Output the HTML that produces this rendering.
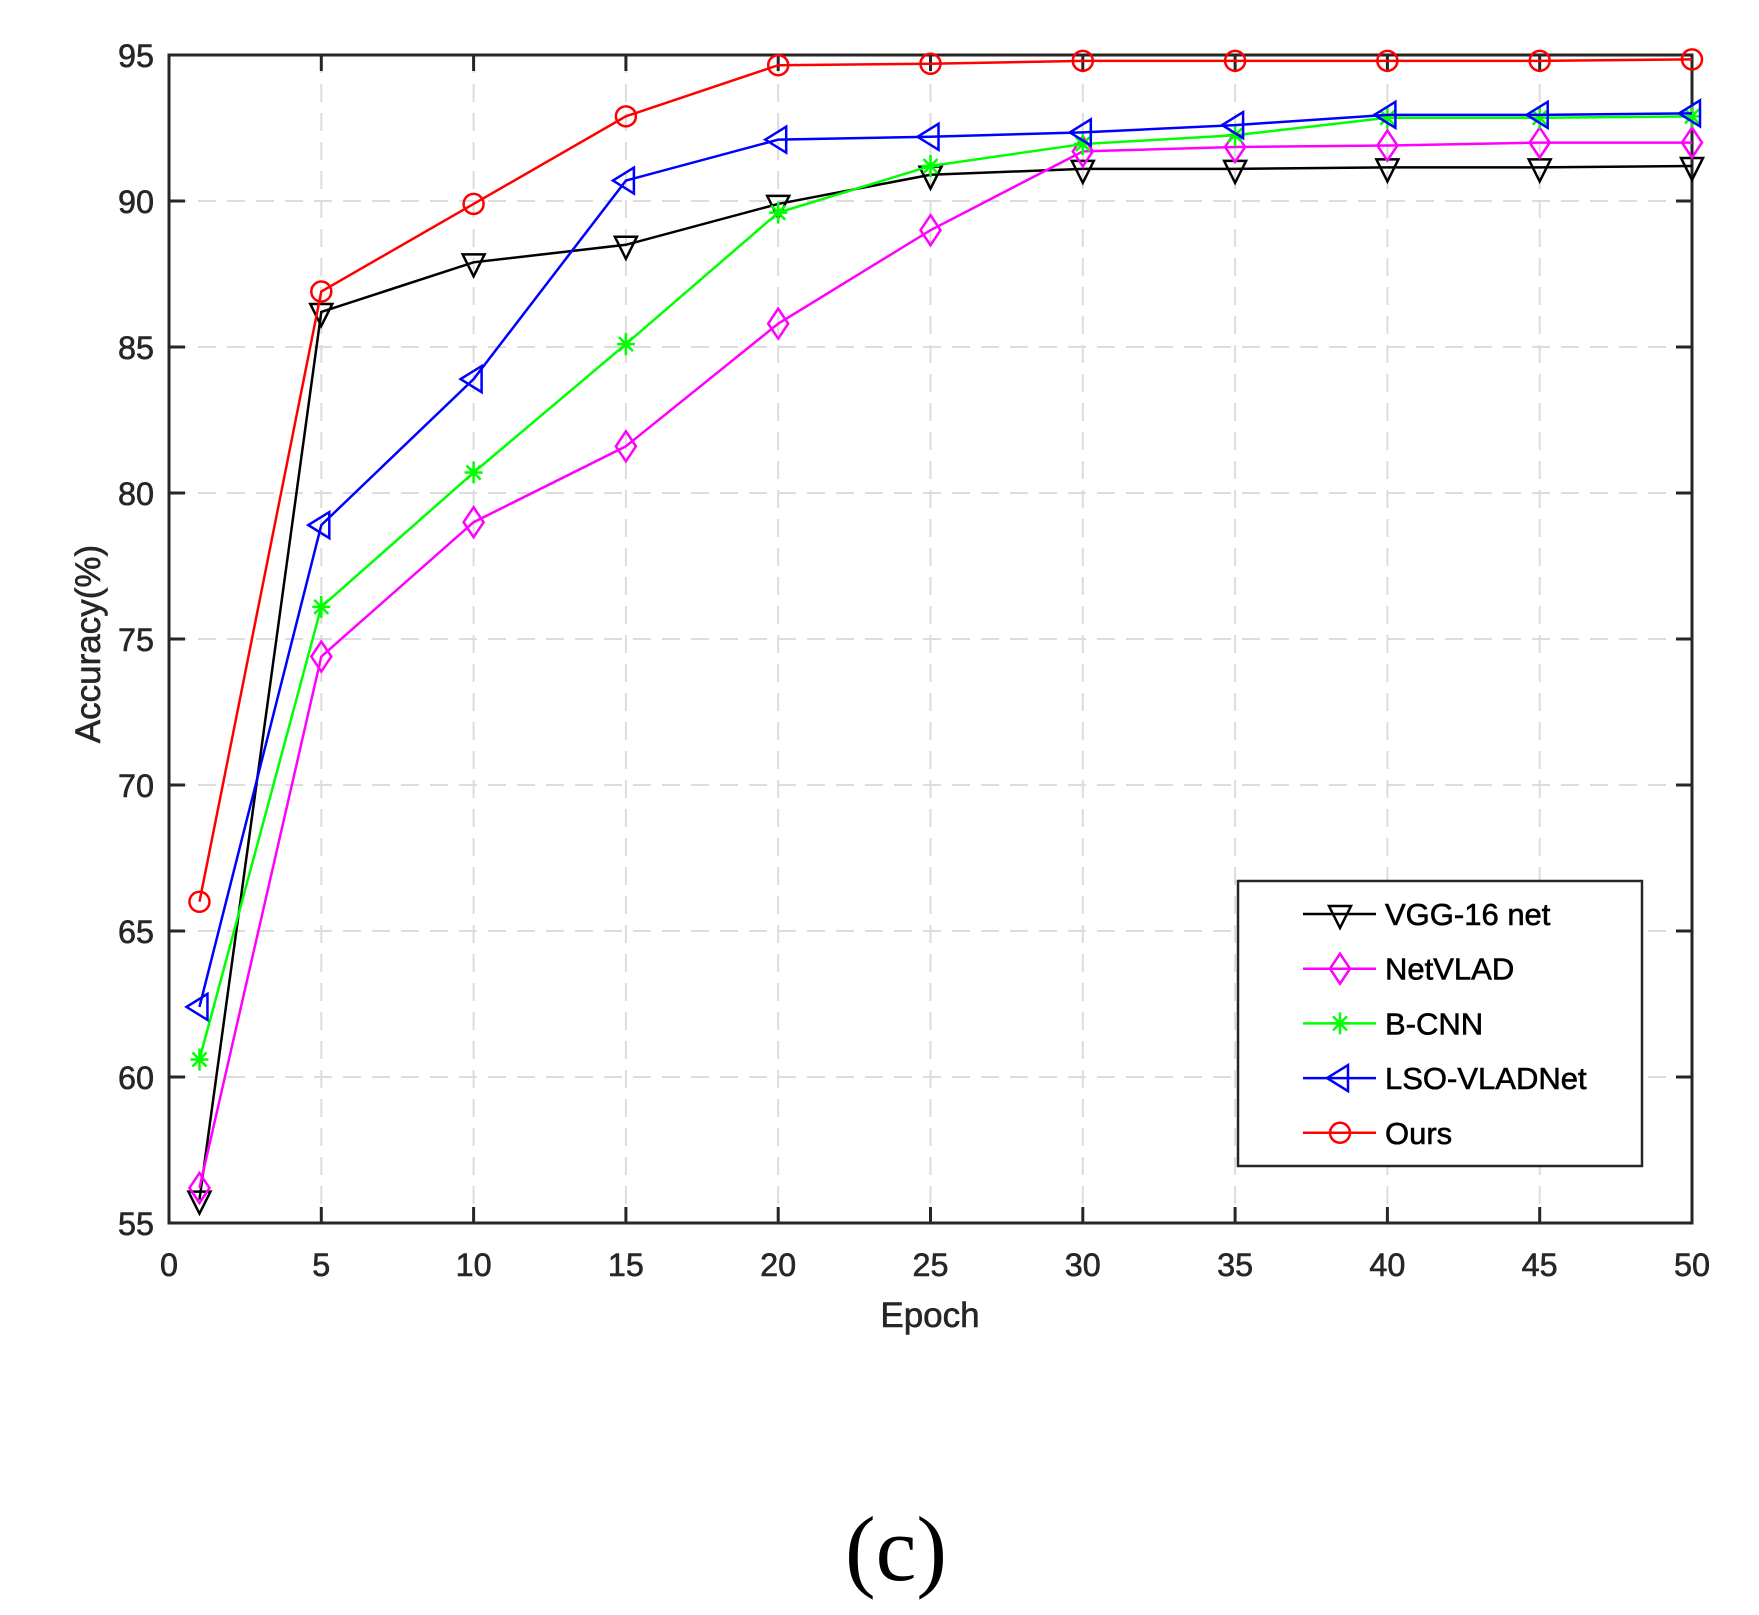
<!DOCTYPE html>
<html><head><meta charset="utf-8"><style>
html,body{margin:0;padding:0;background:#fff;}
svg{display:block;}
text{font-family:"Liberation Sans",Arial,sans-serif;fill:#262626;stroke:#262626;stroke-width:0.6;}
</style></head><body>
<svg id="s" width="1759" height="1615" xmlns="http://www.w3.org/2000/svg"></svg>
<script>
const s=document.getElementById('s');
const L=169,R=1692,T=55,B=1223;
const X=e=>L+(R-L)*e/50, Y=v=>B-(B-T)*(v-55)/40;
let h='';
for(let e=5;e<50;e+=5)h+=`<line x1="${X(e)}" y1="${T}" x2="${X(e)}" y2="${B}" stroke="#dcdcdc" stroke-width="2" stroke-dasharray="18,11"/>`;
for(let v=60;v<95;v+=5)h+=`<line x1="${L}" y1="${Y(v)}" x2="${R}" y2="${Y(v)}" stroke="#dcdcdc" stroke-width="2" stroke-dasharray="18,11"/>`;
for(let e=0;e<=50;e+=5){h+=`<line x1="${X(e)}" y1="${B}" x2="${X(e)}" y2="${B-16}" stroke="#262626" stroke-width="3"/><line x1="${X(e)}" y1="${T}" x2="${X(e)}" y2="${T+16}" stroke="#262626" stroke-width="3"/>`;
 h+=`<text x="${X(e)}" y="1276" font-size="32" text-anchor="middle" textLength="${e<10?18:36}" lengthAdjust="spacingAndGlyphs">${e}</text>`;}
for(let v=55;v<=95;v+=5){h+=`<line x1="${L}" y1="${Y(v)}" x2="${L+16}" y2="${Y(v)}" stroke="#262626" stroke-width="3"/><line x1="${R}" y1="${Y(v)}" x2="${R-16}" y2="${Y(v)}" stroke="#262626" stroke-width="3"/>`;
 h+=`<text x="154" y="${Y(v)+12}" font-size="32" text-anchor="end" textLength="36" lengthAdjust="spacingAndGlyphs">${v}</text>`;}
h+=`<rect x="${L}" y="${T}" width="${R-L}" height="${B-T}" fill="none" stroke="#262626" stroke-width="3"/>`;
h+=`<text x="930" y="1327" font-size="35" text-anchor="middle">Epoch</text>`;
h+=`<text transform="translate(100,644) rotate(-90)" font-size="35" text-anchor="middle">Accuracy(%)</text>`;
h+=`<text x="896" y="1580" font-size="92" text-anchor="middle" style="font-family:'Liberation Serif',serif;stroke:none;fill:#000">(c)</text>`;
const ep=[1,5,10,15,20,25,30,35,40,45,50];
const S=[
 ['VGG-16 net','#000','tri',[55.8,86.2,87.9,88.5,89.9,90.9,91.1,91.1,91.15,91.15,91.2]],
 ['NetVLAD','#ff00ff','dia',[56.2,74.4,79.0,81.6,85.8,89.0,91.7,91.85,91.9,92.0,92.0]],
 ['B-CNN','#00ff00','star',[60.6,76.1,80.7,85.1,89.6,91.2,91.95,92.25,92.85,92.85,92.9]],
 ['LSO-VLADNet','#0000ff','left',[62.4,78.9,83.9,90.7,92.1,92.2,92.35,92.6,92.95,92.95,93.0]],
 ['Ours','#ff0000','circ',[66.0,86.9,89.9,92.9,94.65,94.7,94.8,94.8,94.8,94.8,94.85]]];
function mk(t,x,y,c){
 if(t=='tri')return `<polygon points="${x-11},${y-8} ${x+11},${y-8} ${x},${y+14}" fill="none" stroke="${c}" stroke-width="2.5"/>`;
 if(t=='dia')return `<polygon points="${x},${y-15} ${x+10},${y} ${x},${y+15} ${x-10},${y}" fill="none" stroke="${c}" stroke-width="2.5"/>`;
 if(t=='left')return `<polygon points="${x-13},${y} ${x+8},${y-13} ${x+8},${y+13}" fill="none" stroke="${c}" stroke-width="2.5"/>`;
 if(t=='circ')return `<circle cx="${x}" cy="${y}" r="10" fill="none" stroke="${c}" stroke-width="2.5"/>`;
 return `<path d="M${x-9} ${y}H${x+9}M${x} ${y-11}V${y+11}M${x-7} ${y-7}L${x+7} ${y+7}M${x-7} ${y+7}L${x+7} ${y-7}" stroke="${c}" stroke-width="2.5"/>`;}
S.forEach(([n,c,t,d])=>{
 h+=`<polyline points="${d.map((v,i)=>X(ep[i])+','+Y(v)).join(' ')}" fill="none" stroke="${c}" stroke-width="2.5"/>`;
 d.forEach((v,i)=>h+=mk(t,X(ep[i]),Y(v),c));});
h+=`<rect x="1238" y="881" width="404" height="285" fill="#fff" stroke="#262626" stroke-width="2.5"/>`;
S.forEach(([n,c,t],i)=>{const y=914+i*54.7;
 h+=`<line x1="1303" y1="${y}" x2="1376" y2="${y}" stroke="${c}" stroke-width="2.5"/>`+mk(t,1340,y,c);
 h+=`<text x="1385" y="${y+11}" font-size="31" style="fill:#000;stroke:#000">${n}</text>`;});
s.innerHTML=h;
</script>
</body></html>
